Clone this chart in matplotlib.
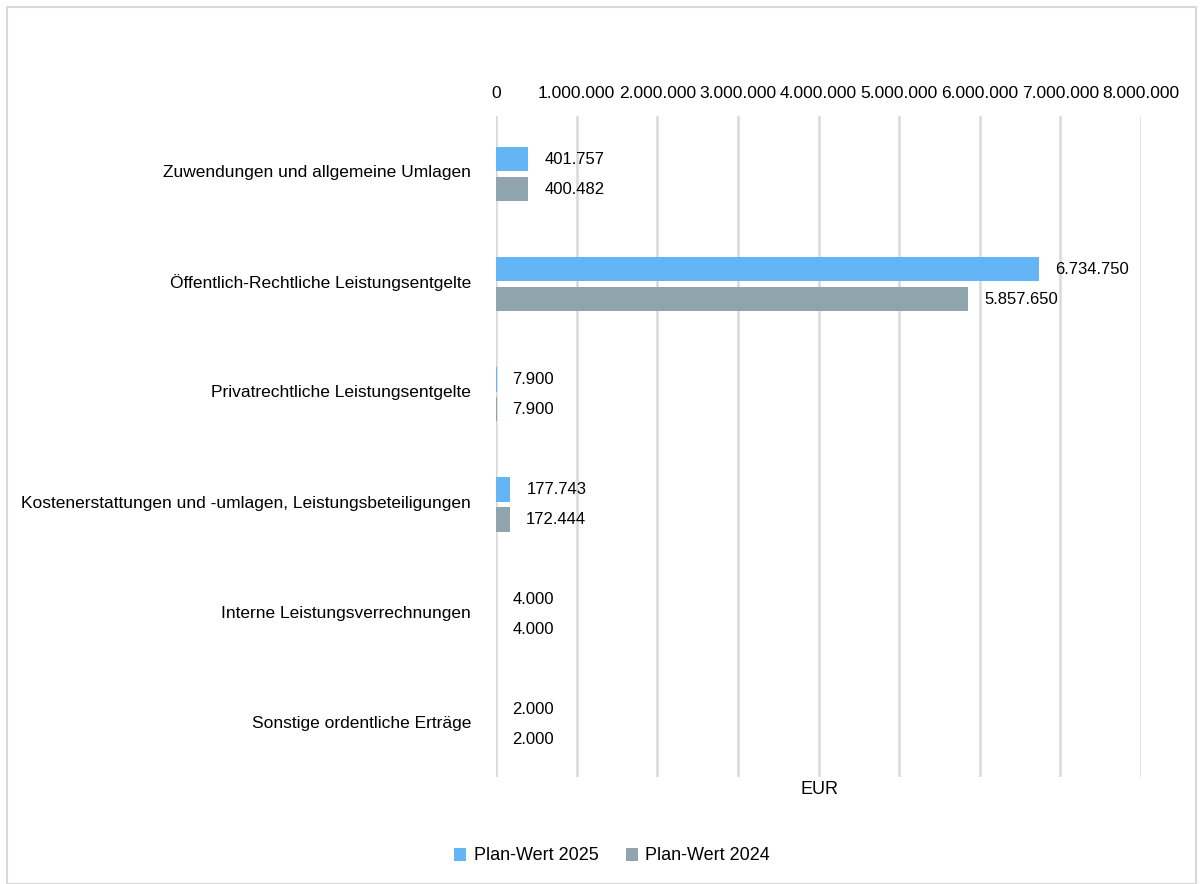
import matplotlib.pyplot as plt
import numpy as np
from matplotlib.ticker import FuncFormatter
from matplotlib.patches import Rectangle

plt.rcParams['font.family'] = ['Liberation Sans', 'DejaVu Sans']

categories = [
    "Zuwendungen und allgemeine Umlagen",
    "Öffentlich-Rechtliche Leistungsentgelte",
    "Privatrechtliche Leistungsentgelte",
    "Kostenerstattungen und -umlagen, Leistungsbeteiligungen",
    "Interne Leistungsverrechnungen",
    "Sonstige ordentliche Erträge",
]
plan_2025 = [401757, 6734750, 7900, 177743, 4000, 2000]
plan_2024 = [400482, 5857650, 7900, 172444, 4000, 2000]
series_names = ["Plan-Wert 2025", "Plan-Wert 2024"]
colors = ["#64B5F6", "#90A4AE"]


def de_fmt(v):
    return f"{int(round(v)):,}".replace(",", ".")


fig = plt.figure(figsize=(12.03, 8.84), dpi=100)
ax = fig.add_axes([496 / 1203, 1 - 777 / 884, 645 / 1203, 661 / 884])

y = np.arange(len(categories))
h = 0.22
shift = 0.027
off = 0.136
ax.barh(y + shift - off, plan_2025, height=h, color=colors[0], label=series_names[0], zorder=3)
ax.barh(y + shift + off, plan_2024, height=h, color=colors[1], label=series_names[1], zorder=3)

for i in range(len(categories)):
    ax.annotate(de_fmt(plan_2025[i]), (plan_2025[i], y[i] + shift - off), xytext=(11.5, 0),
                textcoords="offset points", va="center", ha="left", fontsize=12)
    ax.annotate(de_fmt(plan_2024[i]), (plan_2024[i], y[i] + shift + off), xytext=(11.5, 0),
                textcoords="offset points", va="center", ha="left", fontsize=12)

ax.set_xlim(0, 8000000)
ax.set_ylim(len(categories) - 0.5, -0.5)
ax.set_xticks(np.arange(0, 8000001, 1000000))
ax.xaxis.set_major_formatter(FuncFormatter(lambda v, p: de_fmt(v)))
ax.xaxis.tick_top()
ax.tick_params(axis="x", length=0, pad=11, labelsize=12.5)
ax.set_yticks(y)
ax.set_yticklabels(categories, fontsize=12.5)
ax.tick_params(axis="y", length=0, pad=18)
ax.grid(axis="x", color="#d9d9d9", linewidth=1.8, zorder=0)
for s in ax.spines.values():
    s.set_visible(False)

fig.text(820 / 1203, 1 - 790 / 884, "EUR", ha="center", va="center", fontsize=13)

fig.legend(loc="center", bbox_to_anchor=(612 / 1203, 1 - 856 / 884), ncol=2, frameon=False,
           fontsize=13, handlelength=0.7, handleheight=0.7, columnspacing=1.5, handletextpad=0.4)

fig.patches.append(Rectangle((7 / 1203, 0), 1 - 14 / 1203, 1 - 7 / 884, transform=fig.transFigure,
                             fill=False, edgecolor="#d9d9d9", linewidth=1.5))

fig.savefig("out.png", dpi=100)
